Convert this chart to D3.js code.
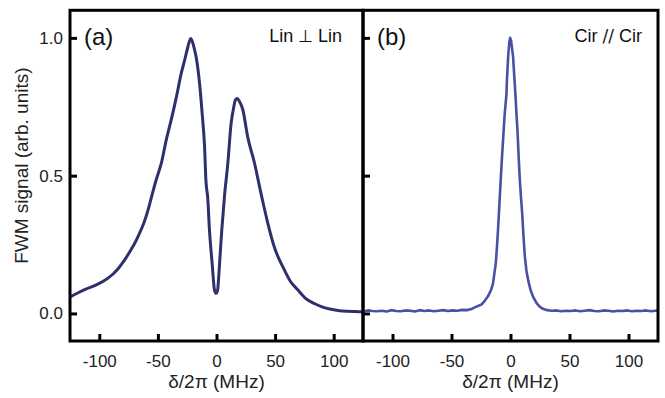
<!DOCTYPE html>
<html>
<head>
<meta charset="utf-8">
<script src="https://cdn.jsdelivr.net/npm/d3@7"></script>
<style>
  html, body { margin: 0; padding: 0; background: #fff; }
  svg { display: block; font-family: "Liberation Sans", Arial, sans-serif; }
</style>
</head>
<body>
<svg id="chart" width="665" height="398"></svg>
<script>
// Detuning (MHz) and normalised FWM signal, panel (a): Lin ⊥ Lin
const linDetuning = [-125, -118, -111, -104, -97, -92, -88, -84, -80, -77, -74, -70, -66, -62, -58.5, -55, -51.4, -47, -43, -38.6, -34.3, -30, -27.3, -24.5, -22, -20.5, -19, -17.3, -14.5, -12.2, -10.2, -9, -7.5, -6, -3.7, -1.7, -0.3, 1, 1.5, 2.8, 4.5, 6.8, 9.6, 12.5, 14.7, 16, 17.6, 19.5, 22.4, 26.7, 32.4, 38.1, 43.7, 49.4, 57.9, 63, 69.3, 76, 83.5, 90, 97.7, 105, 111.8, 118, 125];
const linSignal   = [0.060, 0.075, 0.089, 0.101, 0.116, 0.130, 0.144, 0.162, 0.184, 0.203, 0.224, 0.253, 0.288, 0.328, 0.374, 0.430, 0.486, 0.546, 0.627, 0.703, 0.784, 0.873, 0.917, 0.966, 0.998, 0.985, 0.962, 0.929, 0.837, 0.724, 0.607, 0.480, 0.420, 0.302, 0.181, 0.085, 0.073, 0.085, 0.110, 0.193, 0.302, 0.425, 0.542, 0.691, 0.748, 0.774, 0.780, 0.770, 0.740, 0.639, 0.546, 0.433, 0.329, 0.240, 0.158, 0.117, 0.086, 0.055, 0.036, 0.024, 0.015, 0.010, 0.008, 0.007, 0.006];

// Panel (b): Cir // Cir
const cirDetuning = [-125, -121, -117, -113, -109, -105, -101, -97, -93, -89, -85, -81, -77, -73, -69, -65, -61, -57, -53, -49, -45, -41, -37, -33, -30.4, -27, -24.7, -22, -19.1, -16.5, -14.8, -13.5, -12.5, -11.5, -10.6, -9.5, -8.3, -7.3, -6.3, -5, -3.4, -3, -2, -1, -0.3, 0.5, 1.2, 2.2, 3.2, 4.3, 5.1, 5.9, 6.9, 7.9, 8.9, 9.9, 11, 12.2, 13.5, 15, 17, 19.2, 22, 24.9, 28, 31, 35, 39, 43, 47, 51, 55, 59, 63, 67, 71, 75, 79, 83, 87, 91, 95, 99, 103, 107, 111, 115, 119, 123, 125];
const cirSignal   = [0.007, 0.011, 0.009, 0.008, 0.010, 0.007, 0.012, 0.009, 0.008, 0.011, 0.010, 0.007, 0.012, 0.009, 0.011, 0.008, 0.010, 0.012, 0.009, 0.011, 0.010, 0.013, 0.012, 0.016, 0.022, 0.028, 0.032, 0.045, 0.062, 0.085, 0.109, 0.150, 0.181, 0.240, 0.302, 0.390, 0.484, 0.560, 0.629, 0.720, 0.798, 0.850, 0.930, 0.985, 1.000, 0.990, 0.965, 0.931, 0.860, 0.786, 0.720, 0.665, 0.570, 0.484, 0.420, 0.363, 0.280, 0.205, 0.155, 0.120, 0.085, 0.060, 0.038, 0.024, 0.016, 0.012, 0.010, 0.011, 0.008, 0.010, 0.009, 0.011, 0.008, 0.010, 0.012, 0.009, 0.008, 0.011, 0.010, 0.007, 0.010, 0.009, 0.011, 0.008, 0.010, 0.009, 0.011, 0.008, 0.010, 0.011];

const xTicks = [-100, -50, 0, 50, 100];
const yTicks = [0.0, 0.5, 1.0];

const svg = d3.select("#chart");
const plotTop = 10.3, plotBottom = 341;
const panels = [
  { left: 70, right: 363, xs: linDetuning, ys: linSignal, color: "#2e306c", width: 3, curve: d3.curveMonotoneX, tag: "(a)", note: ["Lin ", "\u22A5", " Lin"], noteRight: 21, showYLabels: true },
  { left: 363, right: 658, xs: cirDetuning, ys: cirSignal, color: "#4a50a3", width: 2.6, curve: d3.curveLinear, tag: "(b)", note: ["Cir ", "//", " Cir"], noteRight: 16, showYLabels: false }
];

const y = d3.scaleLinear().domain([-0.1, 1.1]).range([plotBottom, plotTop]);

panels.forEach(p => {
  const x = d3.scaleLinear().domain([-125, 125]).range([p.left, p.right]);
  const g = svg.append("g");

  // curve
  const line = d3.line().x((d, i) => x(p.xs[i])).y((d, i) => y(p.ys[i])).curve(p.curve);
  g.append("path")
    .datum(p.ys)
    .attr("d", line)
    .attr("fill", "none")
    .attr("stroke", p.color)
    .attr("stroke-width", p.width)
    .attr("stroke-linejoin", "round");

  // bottom axis with inward ticks
  const xAxis = d3.axisBottom(x).tickValues(xTicks).tickSize(-7).tickPadding(14).tickFormat(d => String(d));
  const gx = g.append("g").attr("transform", `translate(0,${plotBottom})`).call(xAxis);
  gx.select(".domain").remove();
  gx.selectAll(".tick line").attr("stroke", "#000").attr("stroke-width", 3);
  gx.selectAll(".tick text").attr("font-size", 17).attr("fill", "#222").attr("font-family", "Liberation Sans, Arial, sans-serif");

  // left axis with inward ticks
  const yAxis = d3.axisLeft(y).tickValues(yTicks).tickSize(-7).tickPadding(7).tickFormat(d3.format(".1f"));
  const gy = g.append("g").attr("transform", `translate(${p.left},0)`).call(yAxis);
  gy.select(".domain").remove();
  gy.selectAll(".tick line").attr("stroke", "#000").attr("stroke-width", 3);
  gy.selectAll(".tick text").attr("font-size", 17).attr("fill", "#222").attr("font-family", "Liberation Sans, Arial, sans-serif")
    .style("display", p.showYLabels ? null : "none");

  // frame
  g.append("rect")
    .attr("x", p.left).attr("y", plotTop)
    .attr("width", p.right - p.left).attr("height", plotBottom - plotTop)
    .attr("fill", "none").attr("stroke", "#000").attr("stroke-width", 3);

  // axis title
  g.append("text")
    .attr("x", x(0)).attr("y", 388)
    .attr("text-anchor", "middle")
    .attr("font-size", 19).attr("fill", "#222")
    .text("\u03B4/2\u03C0 (MHz)");

  // panel tag and polarisation note
  g.append("text")
    .attr("x", p.left + 14).attr("y", 45)
    .attr("font-size", 24).attr("fill", "#111")
    .text(p.tag);
  const note = g.append("text")
    .attr("x", p.right - p.noteRight).attr("y", 42)
    .attr("text-anchor", "end")
    .attr("font-size", 18).attr("fill", "#111");
  note.append("tspan").text(p.note[0]);
  note.append("tspan").attr("font-family", "DejaVu Sans").attr("font-size", 17).attr("fill", "#111").text(p.note[1]);
  note.append("tspan").text(p.note[2]);
});

svg.append("text")
  .attr("transform", `translate(28,${(plotTop + plotBottom) / 2 - 10}) rotate(-90)`)
  .attr("text-anchor", "middle")
  .attr("font-size", 19).attr("fill", "#222")
  .text("FWM signal (arb. units)");
</script>
</body>
</html>
